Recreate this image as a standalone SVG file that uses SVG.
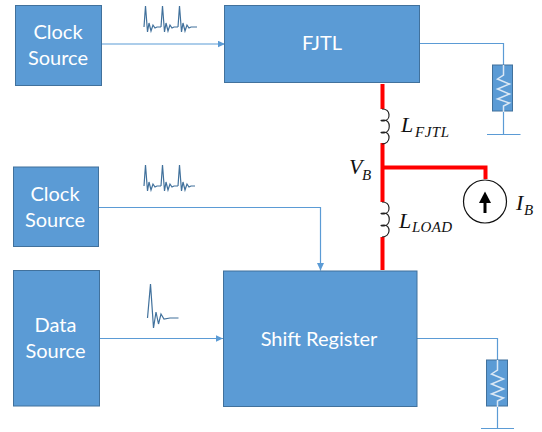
<svg xmlns="http://www.w3.org/2000/svg" width="542" height="432" viewBox="0 0 542 432">
<defs>
<marker id="arr" markerWidth="8" markerHeight="8" refX="7.500" refY="3.500" orient="auto" markerUnits="userSpaceOnUse"><path d="M0 0L7.500 3.500L0 7Z" fill="#5b9bd5"/></marker>
<path id="pulse" d="M0 0L1.500 -21L3.500 5L5 -4L7 4L9 -2L11 1L13 0L17 0"/>
<path id="res" d="M0 0V10L-6 14L6 19L-6 24L6 29L-6 34L6 38L0 41V47"/>
<path id="coil" d="M0 0C9 0 9 11 2 12C-2 12 -2 11 2 11C9 11 9 23 2 24C-2 24 -2 23 2 23C9 23 9 35 0 35"/>
</defs>
<style>
.box{fill:#5b9bd5;stroke:#41719c;stroke-width:1}
.t{font-family:"Lato","Liberation Sans",Arial,sans-serif;font-size:20px;fill:#fff;text-anchor:middle}
.w{fill:none;stroke:#5b9bd5;stroke-width:1.200}
.p{fill:none;stroke:#41719c;stroke-width:1.200}
.r{fill:none;stroke:#f00;stroke-width:4}
.c{fill:none;stroke:#222;stroke-width:1.200}
.m{font-family:"Liberation Serif",serif;font-style:italic;fill:#111;font-size:22px}
.s{font-family:"Liberation Serif",serif;font-style:italic;fill:#111;font-size:15px}
.rs{fill:none;stroke:#dbe8f5;stroke-width:1.500}
</style>
<g id="connectors">
<path class="w" d="M101 44H225" marker-end="url(#arr)"/>
<path class="w" d="M98 207.500H320.500V270.500" marker-end="url(#arr)"/>
<path class="w" d="M99 338.500H223" marker-end="url(#arr)"/>
<path class="w" d="M419 43.500H503.500V65M503.500 111V134.500M487 134.500H520.500"/>
<path class="w" d="M417 338.500H497.500V360M497.500 406V428.500M481 428.500H514"/>
<path class="r" d="M382.500 84V109M382.500 143V202M382.500 237V270M382.500 167.500H485.500V179"/>
<use href="#coil" class="c" x="382" y="109"/>
<use href="#coil" class="c" x="382" y="202"/>
</g>
<g id="clock1"><rect class="box" x="15.500" y="5.500" width="86" height="80"/><text class="t" x="58" y="39">Clock</text><text class="t" x="58" y="65">Source</text></g>
<g id="fjtl"><rect class="box" x="224.500" y="5.500" width="195" height="77"/><text class="t" x="322" y="50">FJTL</text></g>
<g id="clock2"><rect class="box" x="13.500" y="167" width="85" height="79.500"/><text class="t" x="55" y="201">Clock</text><text class="t" x="55" y="227">Source</text></g>
<g id="data"><rect class="box" x="13.500" y="270.500" width="86" height="135.500"/><text class="t" x="55.500" y="332">Data</text><text class="t" x="55.500" y="357.500">Source</text></g>
<g id="shift"><rect class="box" x="223.500" y="271" width="193.500" height="135.500"/><text class="t" x="319" y="346">Shift Register</text></g>
<g id="pulses1" transform="translate(144 27)"><use href="#pulse" class="p"/><use href="#pulse" class="p" x="17"/><use href="#pulse" class="p" x="34"/><path class="p" d="M51 0H53"/></g>
<g id="pulses2" transform="translate(144 186)"><use href="#pulse" class="p"/><use href="#pulse" class="p" x="17"/><use href="#pulse" class="p" x="34"/></g>
<path id="pulse3" class="p" d="M147.500 318L150.500 284L153.500 328L156 312L158.500 324L161 314L164 319L170 318H178.500"/>
<g id="r1"><rect class="box" x="492.500" y="65" width="20" height="46"/><use href="#res" class="rs" x="503.500" y="65"/></g>
<g id="r2"><rect class="box" x="486.500" y="360" width="21" height="46"/><use href="#res" class="rs" x="497.500" y="360"/></g>
<g id="source"><circle cx="485" cy="201.500" r="21.500" fill="#fff" stroke="#111" stroke-width="1.200"/><path d="M485 213V200" stroke="#000" stroke-width="3"/><path d="M479 203L485 191.500L491 203Z" fill="#000"/></g>
<text class="m" x="401" y="132">L</text><text class="s" x="415" y="137" textLength="34">FJTL</text>
<text class="m" x="349" y="174">V</text><text class="s" x="362" y="180">B</text>
<text class="m" x="399" y="228">L</text><text class="s" x="412" y="232" textLength="40">LOAD</text>
<text class="m" x="516" y="210">I</text><text class="s" x="524" y="215">B</text>
</svg>
